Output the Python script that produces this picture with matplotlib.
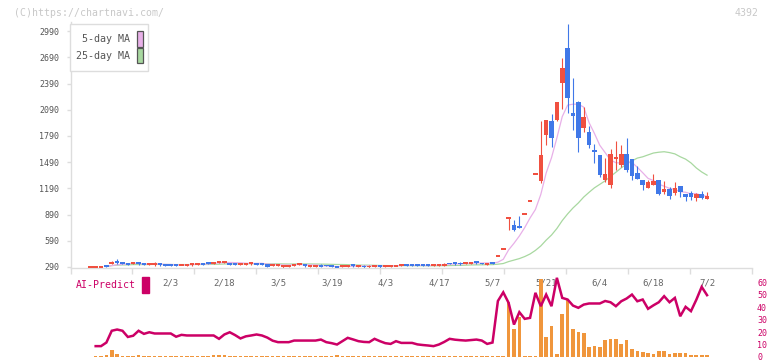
import matplotlib
matplotlib.use("Agg")
import matplotlib.pyplot as plt
from matplotlib.patches import Rectangle
import numpy as np
import pandas as pd

W, H, DPI = 772, 361, 100
FONT = "DejaVu Sans Mono"

UP_COLOR = "#f05040"
DOWN_COLOR = "#4078e8"
MA5_COLOR = "#e8b0e8"
MA25_COLOR = "#a8d8a0"
AXIS_COLOR = "#dddddd"
TEXT_COLOR = "#555555"
WATERMARK_COLOR = "#c8c8c8"
AI_COLOR = "#cc0066"
BAR_COLOR = "#f0963c"

# daily candles, index 0..115 (last = 7/2)
OPEN = [
    286, 288, 282, 313, 325, 363, 347, 332, 325, 347,
    332, 317, 309, 332, 317, 321, 318, 313, 309, 309,
    321, 336, 347, 325, 336, 336, 336, 336, 317, 317,
    321, 336, 336, 321, 302, 302, 286, 294, 309, 317,
    317, 294, 294, 317, 311, 309, 294, 294, 294, 324,
    298, 305, 286, 290, 313, 290, 294, 302, 301, 324,
    317, 317, 317, 317, 305, 309, 305, 336, 336, 336,
    328, 332, 355, 336, 317, 343, 412, 492, 843, 770,
    763, 893, 1045, 1351, 1278, 1801, 1961, 1973, 2400, 2801,
    2057, 2175, 1885, 1840, 1629, 1570, 1286, 1229, 1530, 1458,
    1584, 1527, 1363, 1286, 1200, 1229, 1286, 1153, 1183, 1134,
    1217, 1126, 1141, 1084, 1122, 1069,
]
HIGH = [
    292, 294, 305, 317, 359, 378, 352, 336, 350, 350,
    336, 336, 345, 336, 320, 325, 321, 325, 321, 336,
    335, 340, 350, 350, 362, 363, 340, 340, 340, 340,
    350, 340, 340, 325, 325, 325, 313, 313, 328, 336,
    320, 308, 308, 320, 315, 313, 298, 312, 312, 327,
    312, 308, 309, 312, 317, 317, 313, 309, 327, 327,
    320, 320, 320, 321, 328, 328, 332, 340, 347, 343,
    350, 350, 362, 340, 340, 347, 412, 492, 866, 828,
    874, 893, 1045, 1351, 1961, 1969, 2042, 2175, 2687, 3072,
    2458, 2191, 2122, 1904, 1698, 1570, 1542, 1641, 1733, 1687,
    1763, 1527, 1447, 1286, 1286, 1351, 1286, 1278, 1210, 1259,
    1217, 1126, 1164, 1133, 1164, 1153,
]
LOW = [
    284, 285, 280, 286, 322, 320, 322, 314, 322, 318,
    310, 313, 302, 305, 305, 306, 306, 310, 305, 305,
    318, 314, 322, 322, 332, 333, 314, 314, 314, 314,
    318, 318, 318, 290, 298, 298, 280, 290, 305, 314,
    294, 290, 291, 286, 303, 286, 279, 290, 291, 294,
    294, 280, 283, 286, 283, 286, 290, 298, 298, 298,
    305, 302, 306, 302, 302, 305, 301, 320, 317, 318,
    324, 328, 324, 320, 313, 320, 412, 492, 713, 702,
    732, 893, 1045, 1351, 1248, 1687, 1668, 1961, 2099, 2057,
    1859, 1603, 1840, 1656, 1484, 1324, 1259, 1198, 1401, 1439,
    1382, 1286, 1298, 1172, 1198, 1229, 1114, 1122, 1069, 1114,
    1095, 1050, 1057, 1050, 1069, 1069,
]
CLOSE = [
    291, 292, 303, 298, 347, 336, 328, 317, 347, 321,
    313, 332, 336, 309, 309, 309, 310, 321, 317, 332,
    332, 317, 325, 347, 359, 359, 317, 317, 336, 336,
    347, 321, 321, 294, 321, 321, 309, 309, 325, 328,
    302, 305, 305, 290, 306, 290, 282, 309, 309, 298,
    309, 286, 305, 309, 286, 313, 309, 306, 324, 301,
    309, 305, 309, 305, 324, 324, 328, 324, 328, 324,
    347, 347, 332, 324, 336, 324, 412, 492, 866, 713,
    740, 893, 1045, 1351, 1572, 1969, 1771, 2175, 2572, 2229,
    2023, 1771, 2007, 1687, 1610, 1343, 1351, 1580, 1538, 1584,
    1401, 1336, 1298, 1229, 1259, 1278, 1126, 1183, 1107, 1198,
    1145, 1095, 1095, 1122, 1084, 1107,
]

DATE_LABELS = ["2/3", "2/18", "3/5", "3/19", "4/3", "4/17", "5/7", "5/21", "6/4", "6/18", "7/2"]
DATE_INDEX = [15, 25, 35, 45, 55, 65, 75, 85, 95, 105, 115]
PRICE_TICKS = [290, 590, 890, 1190, 1490, 1790, 2090, 2390, 2690, 2990]
LEGEND_LABELS = ["5-day MA", "25-day MA"]

# AI-Predict panel, index 1..115
AI_LINE = [
    8.6, 8.6, 11.5, 21, 22, 21, 16, 17, 21, 18.5,
    19.8, 18.8, 18.8, 18.8, 18.8, 16.2, 17.7, 17.2, 17.2, 17.2,
    17.2, 17.2, 17.2, 14.5, 18, 19.8, 17.5, 14.8, 16.5, 17.2,
    18, 17.2, 15.5, 13, 11.8, 11.8, 11.8, 13.1, 13.1, 13.1,
    13.1, 13.1, 13.9, 11.8, 11, 9.9, 12.6, 15.3, 14, 12.6,
    12, 11.8, 14.5, 12.6, 11, 10.4, 12.6, 11.2, 11.2, 11.2,
    10, 9.5, 9.1, 8.6, 9.9, 12, 14.5, 13.8, 13.4, 13.1,
    13.5, 13.9, 13.1, 10.4, 11.5, 45, 52, 43.5, 26, 36,
    30.6, 31.4, 51.6, 40.8, 50.2, 40.8, 63.7, 47.5, 46.2, 41.3,
    39.5, 42.1, 43, 43, 43, 45, 44, 40.8, 44.8, 47,
    50.2, 44.8, 46.2, 38.7, 41.5, 44, 48.9, 44, 47.5, 32.7,
    40.3, 36.8, 46, 56.4, 49.7,
]
AI_BAR = [
    0.5, 0.6, 1.1, 5.1, 2.4, 0.9, 0.8, 0.8, 1.3, 0.8,
    0.8, 0.8, 0.8, 0.8, 0.8, 0.6, 0.8, 0.6, 0.8, 0.8,
    0.8, 0.8, 1.1, 1.3, 1.1, 0.8, 0.8, 0.6, 0.8, 0.8,
    0.8, 0.8, 0.6, 0.6, 0.6, 0.8, 0.6, 0.6, 0.6, 0.8,
    0.6, 0.6, 0.6, 0.6, 0.6, 1.1, 0.6, 0.6, 0.6, 0.6,
    0.6, 0.6, 0.6, 0.6, 0.6, 0.6, 0.6, 0.5, 0.5, 0.5,
    0.5, 0.5, 0.5, 0.5, 0.6, 0.8, 0.8, 0.8, 0.8, 0.8,
    0.8, 0.8, 0.5, 0.5, 1.0, 0.5, 0.5, 44, 22.8, 32.2,
    1.0, 0.4, 0.4, 62.8, 15.8, 25.2, 2.6, 34.9, 46.7, 22.8,
    19.8, 18.8, 7.7, 9.1, 7.7, 13.4, 14.5, 14.7, 10.7, 13.9,
    6.4, 4.5, 3.7, 3.2, 2.4, 4.5, 4.5, 2.4, 3.2, 3.2,
    2.7, 1.3, 1.3, 1.3, 1.3,
]
AI_TICKS = [0, 10, 20, 30, 40, 50, 60]

# layout in pixels
SLOT_PX = 5.363
FIRST_X_PX = 90.3
PLOT_LEFT, PLOT_RIGHT = 70.5, 752.0
PRICE_TOP, PRICE_BOTTOM = 22.0, 268.0
PRICE_LIM = (278.5, 3095.0)
AI_TOP, AI_BOTTOM = 270.0, 356.8
AI_LIM = (0.0, 70.0)
MIN_BODY = 20.0


def px_axes(fig, left, top, right, bottom):
    return fig.add_axes([left / W, 1 - bottom / H, (right - left) / W, (bottom - top) / H])


def fig_rect(fig, left, top, width, height, **kw):
    fig.patches.append(Rectangle((left / W, 1 - (top + height) / H), width / W, height / H,
                                 transform=fig.transFigure, **kw))


def x_limits():
    return ((PLOT_LEFT - FIRST_X_PX) / SLOT_PX, (PLOT_RIGHT - FIRST_X_PX) / SLOT_PX)


def draw_candles(ax):
    o = np.array(OPEN, dtype=float)
    h = np.array(HIGH, dtype=float)
    l = np.array(LOW, dtype=float)
    c = np.array(CLOSE, dtype=float)
    x = np.arange(len(c))
    up = c >= o
    colors = np.where(up, UP_COLOR, DOWN_COLOR)

    closes = pd.Series(c)
    ma5 = closes.rolling(5, min_periods=1).mean()
    ma25 = closes.rolling(25, min_periods=1).mean()
    ax.plot(x[3:], ma25[3:], color=MA25_COLOR, lw=0.9, zorder=1)
    ax.plot(x[3:], ma5[3:], color=MA5_COLOR, lw=0.9, zorder=1)

    ax.vlines(x, l, h, colors=colors, lw=0.8, zorder=2)
    small = np.abs(c - o) < MIN_BODY
    body_h = np.where(small, MIN_BODY, np.abs(c - o))
    body_lo = np.where(small, (o + c) / 2 - MIN_BODY / 2, np.minimum(o, c))
    ax.bar(x, body_h, bottom=body_lo, width=0.85, color=colors, lw=0, zorder=3)

    ax.set_xlim(*x_limits())
    ax.set_ylim(*PRICE_LIM)
    ax.set_yticks(PRICE_TICKS)
    ax.set_xticks(np.linspace(*x_limits(), 12))
    ax.set_xticklabels([])
    for s in ("top", "right"):
        ax.spines[s].set_visible(False)
    for s in ("left", "bottom"):
        ax.spines[s].set_color(AXIS_COLOR)
        ax.spines[s].set_linewidth(1.0)
    ax.tick_params(axis="y", length=3, width=1, color=AXIS_COLOR, pad=5,
                   labelsize=6, labelcolor=TEXT_COLOR)
    ax.tick_params(axis="x", length=4.5, width=1, color=AXIS_COLOR)
    ax.patch.set_alpha(0)

    for idx, lab in zip(DATE_INDEX, DATE_LABELS):
        ax.annotate(lab, xy=(idx, 0), xycoords=ax.get_xaxis_transform(),
                    xytext=(0, -14.5), textcoords="offset pixels",
                    ha="center", va="center", fontsize=6.5, color="#666666")


def draw_legend(fig):
    # box drawn by hand: text on the left, small colour swatch on the right
    fig_rect(fig, 70.3, 24, 78, 47, facecolor="white", edgecolor=AXIS_COLOR, lw=1.0, zorder=5)
    for k, (lab, col) in enumerate(zip(LEGEND_LABELS, (MA5_COLOR, MA25_COLOR))):
        yc = 39.0 + 16.8 * k
        fig.text(129.8 / W, 1 - yc / H, lab, fontsize=7.2, color=TEXT_COLOR,
                 ha="right", va="center", zorder=6)
        fig_rect(fig, 136.5, yc - 7.6, 6.2, 15.2, facecolor=col, edgecolor=TEXT_COLOR,
                 lw=0.9, zorder=6)


def draw_ai_panel(ax):
    x = np.arange(1, len(AI_LINE) + 1)
    ax.bar(x, AI_BAR, width=0.68, color=BAR_COLOR, lw=0, zorder=1)
    ax.plot(x, AI_LINE, color=AI_COLOR, lw=1.8, zorder=2, solid_joinstyle="miter")
    ax.set_xlim(*x_limits())
    ax.set_ylim(*AI_LIM)
    ax.set_yticks(AI_TICKS)
    ax.yaxis.tick_right()
    ax.tick_params(axis="y", length=0, pad=3.6, labelsize=6, labelcolor=AI_COLOR)
    ax.set_xticks([])
    for s in ax.spines.values():
        s.set_visible(False)
    ax.patch.set_alpha(0)


def main():
    plt.rcParams["font.family"] = [FONT, "DejaVu Sans"]
    fig = plt.figure(figsize=(W / DPI, H / DPI), dpi=DPI)

    ax_price = px_axes(fig, PLOT_LEFT, PRICE_TOP, PLOT_RIGHT, PRICE_BOTTOM)
    draw_candles(ax_price)
    ax_ai = px_axes(fig, PLOT_LEFT, AI_TOP, PLOT_RIGHT, AI_BOTTOM)
    draw_ai_panel(ax_ai)
    draw_legend(fig)

    fig.text(14 / W, 1 - 12.5 / H, "(C)https://chartnavi.com/", fontsize=7.15,
             color=WATERMARK_COLOR, ha="left", va="center")
    fig.text(759 / W, 1 - 12.5 / H, "4392", fontsize=7.15,
             color=WATERMARK_COLOR, ha="right", va="center")
    fig.text(75.5 / W, 1 - 285.5 / H, "AI-Predict", fontsize=7.1,
             color=AI_COLOR, ha="left", va="center")
    fig_rect(fig, 142, 276.7, 6.7, 16, color=AI_COLOR)

    fig.savefig("out.png", dpi=DPI)
    plt.close(fig)


if __name__ == "__main__":
    main()
